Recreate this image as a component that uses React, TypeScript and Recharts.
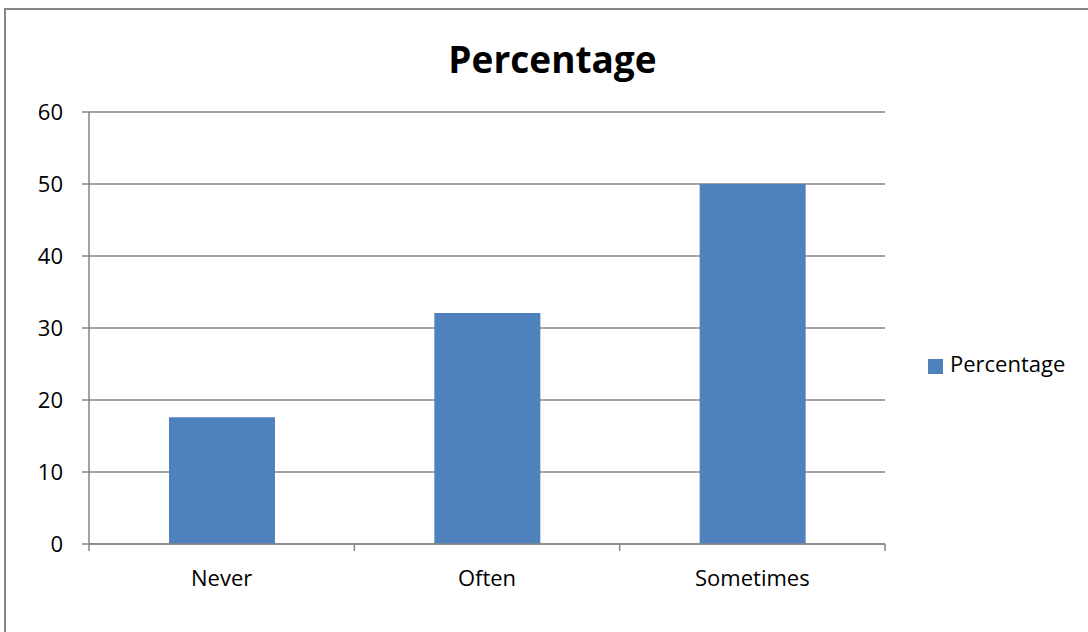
import { BarChart, Bar, XAxis, YAxis, CartesianGrid, Legend } from "recharts";

const CATEGORIES = ["Never", "Often", "Sometimes"];
const PERCENTAGE = [17.6, 32.1, 50];
const Y_TICKS = [0, 10, 20, 30, 40, 50, 60];

const BLUE = "#4f81bd";
const GRID = "#868686";
const FONT = "'Open Sans', 'Noto Sans', sans-serif";

const data = CATEGORIES.map((name, i) => ({ name, Percentage: PERCENTAGE[i] }));

// Excel puts the category tick marks between the bands, not under the labels
const CategoryTick = (props: any) => {
  const { x, y, payload, index, visibleTicksCount } = props;
  const half = payload.offset ?? 0;
  const last = index === visibleTicksCount - 1;
  return (
    <g>
      <line x1={x - half} x2={x - half} y1={y} y2={y + 7} stroke={GRID} strokeWidth={1.5} />
      {last && <line x1={x + half} x2={x + half} y1={y} y2={y + 7} stroke={GRID} strokeWidth={1.5} />}
      <text x={x} y={y + 42} textAnchor="middle" fill="#000" fontSize={22} fontFamily={FONT}>
        {payload.value}
      </text>
    </g>
  );
};

export default function App() {
  return (
    <div style={{ position: "absolute", left: 0, top: 0, width: 1088, height: 632, background: "#fff", overflow: "hidden", fontFamily: FONT }}>
      {/* chart frame, runs off the right and bottom edges */}
      <div style={{ position: "absolute", left: 4, top: 8, width: 1200, height: 700, border: `2px solid ${GRID}`, boxSizing: "border-box" }} />
      <div style={{ position: "absolute", left: 0, top: 33, width: 1105, textAlign: "center", fontSize: 37, fontWeight: 700, color: "#000" }}>
        Percentage
      </div>
      <BarChart
        width={1088}
        height={632}
        data={data}
        margin={{ top: 112, right: 43, bottom: 0, left: 0 }}
        style={{ position: "absolute", left: 0, top: 0 }}
      >
        <CartesianGrid vertical={false} stroke={GRID} strokeWidth={1.5} />
        <XAxis
          dataKey="name"
          height={88}
          tickLine={false}
          axisLine={{ stroke: GRID, strokeWidth: 1.5 }}
          tickSize={0}
          tickMargin={0}
          interval={0}
          tick={<CategoryTick />}
        />
        <YAxis
          domain={[0, 60]}
          ticks={Y_TICKS}
          width={89}
          axisLine={{ stroke: GRID, strokeWidth: 1.5 }}
          tickLine={{ stroke: GRID, strokeWidth: 1.5 }}
          tickSize={7}
          tickMargin={19}
          tick={{ fill: "#000", fontSize: 22, fontFamily: FONT }}
        />
        <Legend
          layout="vertical"
          align="right"
          verticalAlign="middle"
          iconType="square"
          iconSize={15}
          wrapperStyle={{ position: "absolute", left: 928, top: 348, width: 160, fontSize: 22, fontFamily: FONT }}
          formatter={(v) => <span style={{ color: "#000", marginLeft: 3 }}>{v}</span>}
        />
        <Bar dataKey="Percentage" fill={BLUE} barSize={106} isAnimationActive={false} />
      </BarChart>
    </div>
  );
}
